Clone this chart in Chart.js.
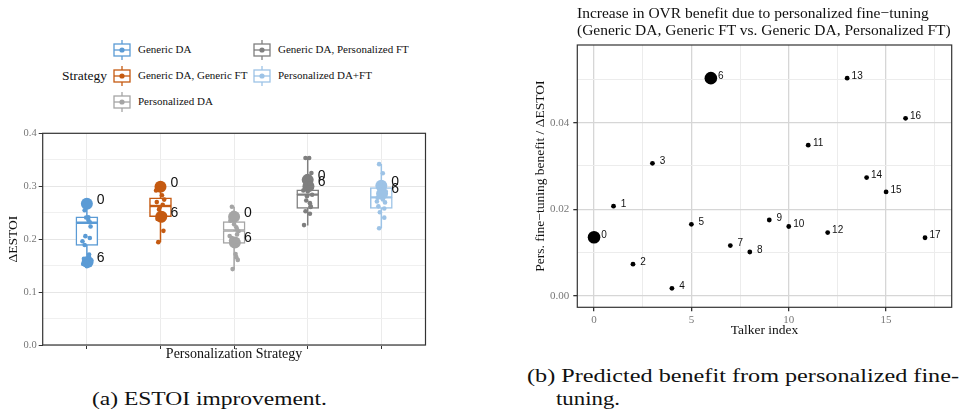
<!DOCTYPE html>
<html>
<head>
<meta charset="utf-8">
<script src="https://cdn.jsdelivr.net/npm/chart.js@4.4.1/dist/chart.umd.min.js"></script>
<style>
body { margin: 0; width: 962px; height: 409px; position: relative; background: #fff; overflow: hidden; font-family: "Liberation Serif", serif; }
.abs { position: absolute; white-space: nowrap; }
canvas { position: absolute; }
.cap { font-size: 19px; color: #111; transform-origin: 0 50%; line-height: 1; }
</style>
</head>
<body>
<canvas id="left" width="432" height="250" style="left:0;top:120px"></canvas>
<canvas id="right" width="482" height="350" style="left:480px;top:0"></canvas>
<div id="legend"></div>
<div class="abs" style="left:577px;top:4px;font-size:15.5px;line-height:17px;color:#111">Increase in OVR benefit due to personalized fine−tuning<br>(Generic DA, Generic FT vs. Generic DA, Personalized FT)</div>
<div class="abs cap" data-w="235" style="left:92px;top:389px">(a) ESTOI improvement.</div>
<div class="abs cap" data-w="432" style="left:527px;top:366px">(b) Predicted benefit from personalized fine-</div>
<div class="abs cap" data-w="64" style="left:556px;top:389px">tuning.</div>
<script>
// panel (a): strategies in plotting order
const strategies = ["Generic DA", "Generic DA, Generic FT", "Personalized DA", "Generic DA, Personalized FT", "Personalized DA+FT"];
const stratColors = ["#5B9BD5", "#C55A11", "#A5A5A5", "#7F7F7F", "#9DC3E6"];

// box stats per strategy
const whiskerLow = [0.149, 0.194, 0.143, 0.226, 0.2205];
const boxQ1 = [0.188, 0.2425, 0.192, 0.258, 0.258];
const boxMedian = [0.231, 0.2626, 0.2164, 0.284, 0.279];
const boxQ3 = [0.242, 0.278, 0.233, 0.293, 0.2975];
const whiskerHigh = [0.269, 0.303, 0.261, 0.353, 0.342];

// ΔESTOI per talker (index = talker)
const estoiGenericDA = [0.267, 0.2546, 0.2412, 0.2238, 0.2057, 0.2023, 0.157, 0.189, 0.1655, 0.153, 0.149, 0.160, 0.163, 0.236, 0.241, 0.232, 0.196, 0.171];
const estoiGenericFT = [0.299, 0.303, 0.296, 0.2747, 0.256, 0.2157, 0.2425, 0.1943, 0.265, 0.270, 0.250, 0.245, 0.238, 0.283, 0.260, 0.248, 0.292, 0.236];
const estoiPersDA = [0.2425, 0.2613, 0.172, 0.1608, 0.1434, 0.209, 0.1935, 0.2023, 0.2224, 0.235, 0.228, 0.215, 0.198, 0.188, 0.250, 0.218, 0.206, 0.166];
const estoiPersFT = [0.312, 0.3532, 0.3532, 0.325, 0.273, 0.2607, 0.300, 0.2527, 0.248, 0.2265, 0.290, 0.284, 0.295, 0.305, 0.281, 0.262, 0.292, 0.268];
const estoiPersDAFT = [0.301, 0.3417, 0.3244, 0.2694, 0.2507, 0.2406, 0.286, 0.2205, 0.295, 0.278, 0.283, 0.290, 0.262, 0.275, 0.305, 0.258, 0.271, 0.288];
const jitter = [0, -0.03, 0.02, 0.05, -0.02, 0.04, 0.01, -0.03, 0.03, -0.05, 0.0, 0.06, -0.04, 0.02, -0.01, 0.04, -0.06, 0.03];
const bigTalkers = [0, 6];
const leftYTicks = [0, 0.05, 0.1, 0.15, 0.2, 0.25, 0.3, 0.35, 0.4];

// panel (b)
const talkers = [0, 1, 2, 3, 4, 5, 6, 7, 8, 9, 10, 11, 12, 13, 14, 15, 16, 17];
const ftBenefit = [0.0135, 0.0207, 0.0073, 0.0306, 0.0017, 0.0165, 0.0503, 0.0116, 0.0101, 0.0175, 0.0160, 0.0348, 0.0146, 0.0503, 0.0273, 0.0240, 0.0410, 0.0134];
const rightXTicks = [0, 2.5, 5, 7.5, 10, 12.5, 15, 17.5];
const rightYTicks = [0, 0.01, 0.02, 0.03, 0.04, 0.05];

const estoiAll = [estoiGenericDA, estoiGenericFT, estoiPersDA, estoiPersFT, estoiPersDAFT];
const near = (a, b) => Math.abs(a - b) < 1e-9;
const isMult = (v, s) => near(v / s, Math.round(v / s));

const framePlugin = {
	id: "frame",
	afterDatasetsDraw(chart) {
		const { ctx, chartArea: a } = chart;
		ctx.save();
		ctx.strokeStyle = "#333";
		ctx.lineWidth = 1.2;
		ctx.strokeRect(a.left, a.top, a.right - a.left, a.bottom - a.top);
		ctx.restore();
	},
};

// talker labels next to points
function labelPlugin(getItems, font, dx, dy, align) {
	return {
		id: "talkerLabels",
		afterDatasetsDraw(chart) {
			const { ctx, scales } = chart;
			ctx.save();
			ctx.font = font;
			ctx.fillStyle = "#111";
			ctx.textAlign = align;
			ctx.textBaseline = "middle";
			getItems().forEach((it) => {
				ctx.fillText(it.text, scales.x.getPixelForValue(it.x) + dx, scales.y.getPixelForValue(it.y) + dy);
			});
			ctx.restore();
		},
	};
}

Chart.defaults.font.family = "'Liberation Serif', serif";
Chart.defaults.animation = false;

// ---------- panel (a)
const leftDatasets = [];
estoiAll.forEach((vals, i) => {
	leftDatasets.push({
		type: "scatter",
		data: talkers.map((t) => ({ x: i + 1 + jitter[t], y: vals[t] })),
		backgroundColor: stratColors[i],
		borderWidth: 0,
		pointRadius: (c) => (bigTalkers.includes(c.dataIndex) ? 6 : 2.3),
		order: 0,
	});
});
leftDatasets.push({
	type: "bar",
	data: strategies.map((s, i) => ({ x: i + 1, y: [boxQ1[i], boxMedian[i]] })),
	backgroundColor: "#fff",
	borderColor: stratColors,
	borderWidth: 1.5,
	borderSkipped: false,
	barThickness: 22,
	grouped: false,
	order: 1,
});
leftDatasets.push({
	type: "bar",
	data: strategies.map((s, i) => ({ x: i + 1, y: [boxMedian[i], boxQ3[i]] })),
	backgroundColor: "#fff",
	borderColor: stratColors,
	borderWidth: 1.5,
	borderSkipped: false,
	barThickness: 22,
	grouped: false,
	order: 1,
});
strategies.forEach((s, i) => {
	leftDatasets.push({
		type: "scatter",
		data: [{ x: i + 1, y: whiskerLow[i] }, { x: i + 1, y: whiskerHigh[i] }],
		showLine: true,
		borderColor: stratColors[i],
		borderWidth: 1.5,
		pointRadius: 0,
		order: 2,
	});
});

new Chart(document.getElementById("left"), {
	type: "scatter",
	data: { datasets: leftDatasets },
	options: {
		responsive: false,
		devicePixelRatio: 1,
		layout: { padding: { top: 13.3, right: 6.5, left: 0, bottom: 0 } },
		plugins: { legend: { display: false }, tooltip: { enabled: false } },
		scales: {
			x: {
				type: "linear",
				min: 0.4,
				max: 5.6,
				offset: false,
				afterBuildTicks: (s) => { s.ticks = strategies.map((n, i) => ({ value: i + 1 })); },
				afterFit: (s) => { s.height = 25; },
				ticks: { callback: () => "", autoSkip: false, maxRotation: 0, padding: 0 },
				grid: { offset: false, color: "#ebebeb", lineWidth: 1, tickLength: 4, tickColor: "#333" },
				border: { display: false },
				title: { display: true, text: "Personalization Strategy", color: "#111", font: { size: 14 }, padding: { top: 0, bottom: 7 } },
			},
			y: {
				min: 0,
				max: 0.4,
				afterBuildTicks: (s) => { s.ticks = leftYTicks.map((v) => ({ value: v })); },
				afterFit: (s) => { s.width = 42.7; },
				ticks: {
					callback: (v) => (isMult(v, 0.1) ? v.toFixed(1) : ""),
					color: "#777",
					font: { size: 10.5 },
					padding: 2,
					autoSkip: false,
				},
				grid: {
					color: (c) => (isMult(c.tick.value, 0.1) ? "#e6e6e6" : "#f0f0f0"),
					lineWidth: 1,
					tickLength: 4,
					tickColor: (c) => (isMult(c.tick.value, 0.1) ? "#333" : "rgba(0,0,0,0)"),
				},
				border: { display: false },
				title: { display: true, text: "ΔESTOI", color: "#111", font: { size: 13.5 }, padding: { top: 5, bottom: 0 } },
			},
		},
	},
	plugins: [
		framePlugin,
		labelPlugin(
			() => {
				const out = [];
				estoiAll.forEach((vals, i) => bigTalkers.forEach((t) => out.push({ text: String(t), x: i + 1, y: vals[t] })));
				return out;
			},
			"14px 'Liberation Sans', sans-serif",
			10,
			-4,
			"left"
		),
	],
});

// ---------- panel (b)
new Chart(document.getElementById("right"), {
	type: "scatter",
	data: {
		datasets: [
			{
				data: talkers.map((t) => ({ x: t, y: ftBenefit[t] })),
				backgroundColor: "#000",
				borderWidth: 0,
				pointRadius: (c) => (bigTalkers.includes(c.dataIndex) ? 6.3 : 2.4),
			},
		],
	},
	options: {
		responsive: false,
		devicePixelRatio: 1,
		layout: { padding: { top: 45, right: 10.3, left: 0, bottom: 0 } },
		plugins: { legend: { display: false }, tooltip: { enabled: false } },
		scales: {
			x: {
				min: -0.86,
				max: 18.37,
				afterBuildTicks: (s) => { s.ticks = rightXTicks.map((v) => ({ value: v })); },
				afterFit: (s) => { s.height = 42.7; },
				ticks: { callback: (v) => (isMult(v, 5) ? String(v) : ""), color: "#777", font: { size: 11 }, padding: 2, autoSkip: false, maxRotation: 0 },
				grid: {
					color: (c) => (isMult(c.tick.value, 5) ? "#d6d6d6" : "#ececec"),
					lineWidth: (c) => (isMult(c.tick.value, 5) ? 1.3 : 1),
					tickLength: 4,
					tickColor: (c) => (isMult(c.tick.value, 5) ? "#333" : "rgba(0,0,0,0)"),
				},
				border: { display: false },
				title: { display: true, text: "Talker index", color: "#111", font: { size: 13.5 }, padding: { top: 0, bottom: 11 } },
			},
			y: {
				min: -0.00268,
				max: 0.05796,
				afterBuildTicks: (s) => { s.ticks = rightYTicks.map((v) => ({ value: v })); },
				afterFit: (s) => { s.width = 97.3; },
				ticks: { callback: (v) => (isMult(v, 0.02) ? v.toFixed(2) : ""), color: "#777", font: { size: 11 }, padding: 4, autoSkip: false },
				grid: {
					color: (c) => (isMult(c.tick.value, 0.02) ? "#d6d6d6" : "#ececec"),
					lineWidth: (c) => (isMult(c.tick.value, 0.02) ? 1.3 : 1),
					tickLength: 4,
					tickColor: (c) => (isMult(c.tick.value, 0.02) ? "#333" : "rgba(0,0,0,0)"),
				},
				border: { display: false },
				title: { display: true, text: "Pers. fine−tuning benefit / ΔESTOI", color: "#111", font: { size: 13.5 }, padding: { top: 52, bottom: 0 } },
			},
		},
	},
	plugins: [
		framePlugin,
		labelPlugin(() => talkers.map((t) => ({ text: String(t), x: t, y: ftBenefit[t] })), "10px 'Liberation Sans', sans-serif", 10, -2, "center"),
	],
});

// ---------- legend for panel (a)
const legend = document.getElementById("legend");
const legendRows = [50, 76, 102];
const legendCols = [113, 253];
legend.innerHTML =
	'<div class="abs" style="left:62px;top:68px;font-size:13.5px;color:#111">Strategy</div>' +
	strategies
		.map((s, i) => {
			const col = Math.floor(i / 3), row = i % 3;
			const x = legendCols[col], y = legendRows[row];
			const c = stratColors[i];
			const svg =
				`<svg class="abs" style="left:${x}px;top:${y - 10}px" width="18" height="20">` +
				`<line x1="9" y1="0" x2="9" y2="20" stroke="${c}" stroke-width="1.3"/>` +
				`<rect x="1" y="4" width="16" height="12" fill="#fff" stroke="${c}" stroke-width="1.3"/>` +
				`<line x1="1" y1="10" x2="17" y2="10" stroke="${c}" stroke-width="1.3"/>` +
				`<circle cx="9" cy="10" r="2.6" fill="${c}"/></svg>`;
			return svg + `<div class="abs" style="left:${x + 25}px;top:${y - 7}px;font-size:11px;color:#111">${s}</div>`;
		})
		.join("");

// stretch captions to the widths used in the figure
document.querySelectorAll(".cap").forEach((el) => {
	const w = el.getBoundingClientRect().width;
	el.style.transform = `scaleX(${+el.dataset.w / w})`;
});
</script>
</body>
</html>
